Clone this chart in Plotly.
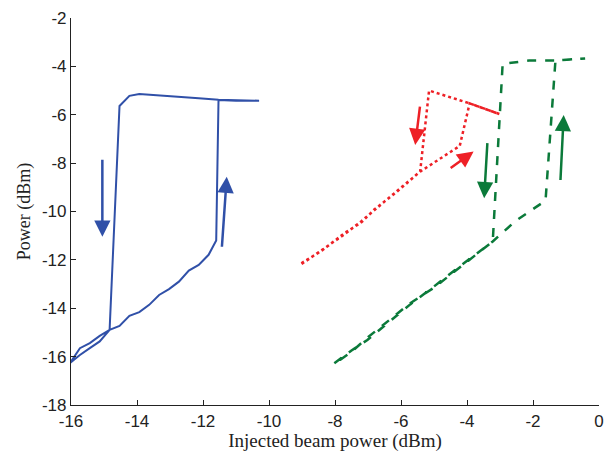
import plotly.graph_objects as go

# Blue (solid) hysteresis loop
blue_x = [-16.03, -15.73, -15.43, -15.13, -14.83, -14.53, -14.23, -13.93, -13.63, -13.33,
          -13.03, -12.73, -12.43, -12.13, -11.83, -11.60, -11.53, -11.0, -10.3,
          -10.3, -11.0, -11.53, -12.13, -12.73, -13.33, -13.93, -14.23, -14.53,
          -14.83, -15.13, -15.43, -15.73, -16.03]
blue_y = [-16.27, -15.65, -15.44, -15.14, -14.89, -14.73, -14.31, -14.16, -13.86, -13.45,
          -13.21, -12.90, -12.44, -12.21, -11.79, -11.2, -5.39, -5.42, -5.42,
          -5.42, -5.40, -5.38, -5.32, -5.25, -5.21, -5.14, -5.22, -5.64,
          -14.89, -15.37, -15.65, -15.93, -16.26]

# Red (dotted) hysteresis loop
red_x = [-9.02, -8.4, -7.72, -7.2, -6.82, -6.12, -5.42, -4.22, -3.92, -3.02,
         -3.02, -3.92, -5.15, -5.42, -6.12, -6.82, -7.2, -7.72, -8.4, -9.02]
red_y = [-12.14, -11.62, -10.90, -10.45, -9.93, -9.18, -8.35, -7.29, -5.53, -5.97,
         -5.97, -5.53, -5.00, -8.35, -9.15, -9.95, -10.40, -10.95, -11.6, -12.18]

# Green (dashed) hysteresis loop
green_x = [-8.02, -7.5, -7.02, -6.4, -5.72, -5.0, -4.3, -3.22, -2.52, -1.62, -1.32, -0.42,
           -0.42, -1.32, -2.12, -2.92, -3.22, -4.3, -5.0, -5.72, -6.4, -7.02, -7.5, -8.02]
green_y = [-16.27, -15.75, -15.31, -14.62, -13.84, -13.10, -12.35, -11.24, -10.38, -9.55, -3.76, -3.67,
           -3.67, -3.76, -3.76, -3.90, -11.24, -12.40, -13.15, -13.79, -14.55, -15.22, -15.80, -16.30]

# Direction arrows: (tail_x, tail_y, head_x, head_y)
blue_arrows = [(-15.05, -7.8, -15.05, -11.04), (-11.43, -11.52, -11.28, -8.56)]
red_arrows = [(-5.42, -5.6, -5.57, -7.25), (-4.54, -8.25, -3.8, -7.52)]
green_arrows = [(-3.38, -7.11, -3.48, -9.45), (-1.17, -8.76, -1.07, -6.01)]

# Tick labels
x_ticks = [-16, -14, -12, -10, -8, -6, -4, -2, 0]
x_ticktext = ["-16", "-14", "-12", "-10", "-8", "-6", "-4", "-2", "0"]
y_ticks = [-18, -16, -14, -12, -10, -8, -6, -4, -2]
y_ticktext = ["-18", "-16", "-14", "-12", "-10", "-8", "-6", "-4", "-2"]

BLUE = "#3050A8"
RED = "#EE2026"
GREEN = "#0B7A3A"

fig = go.Figure()
fig.add_trace(go.Scatter(x=blue_x, y=blue_y, mode="lines",
                         line=dict(color=BLUE, width=2), showlegend=False))
fig.add_trace(go.Scatter(x=red_x, y=red_y, mode="lines",
                         line=dict(color=RED, width=2.5, dash="dot"), showlegend=False))
fig.add_trace(go.Scatter(x=green_x, y=green_y, mode="lines",
                         line=dict(color=GREEN, width=2.5, dash="dash"), showlegend=False))

for arrows, col in [(blue_arrows, BLUE), (red_arrows, RED), (green_arrows, GREEN)]:
    for tx, ty, hx, hy in arrows:
        fig.add_annotation(x=hx, y=hy, ax=tx, ay=ty, xref="x", yref="y",
                           axref="x", ayref="y", text="", showarrow=True,
                           arrowhead=2, arrowsize=1.3, arrowwidth=2.5, arrowcolor=col)

SERIF = "Times New Roman, Liberation Serif, serif"

fig.update_layout(
    width=609, height=456,
    margin=dict(l=71, r=5, t=18, b=51),
    paper_bgcolor="white", plot_bgcolor="white",
    font=dict(family="Arial, Liberation Sans, sans-serif", size=17, color="#222"),
)
fig.update_xaxes(range=[-16, 0], tickvals=x_ticks, ticktext=x_ticktext,
                 showline=True, linecolor="#222",
                 linewidth=1.2, ticks="inside", ticklen=5, tickcolor="#222",
                 showgrid=False, zeroline=False,
                 title=dict(text="Injected beam power (dBm)", standoff=2,
                            font=dict(family=SERIF, size=19)))
fig.update_yaxes(range=[-18, -2], tickvals=y_ticks, ticktext=y_ticktext,
                 showline=True, linecolor="#222",
                 linewidth=1.2, ticks="inside", ticklen=5, tickcolor="#222",
                 showgrid=False, zeroline=False,
                 title=dict(text="Power (dBm)", standoff=6,
                            font=dict(family=SERIF, size=18)))

fig.write_html("out.html")
